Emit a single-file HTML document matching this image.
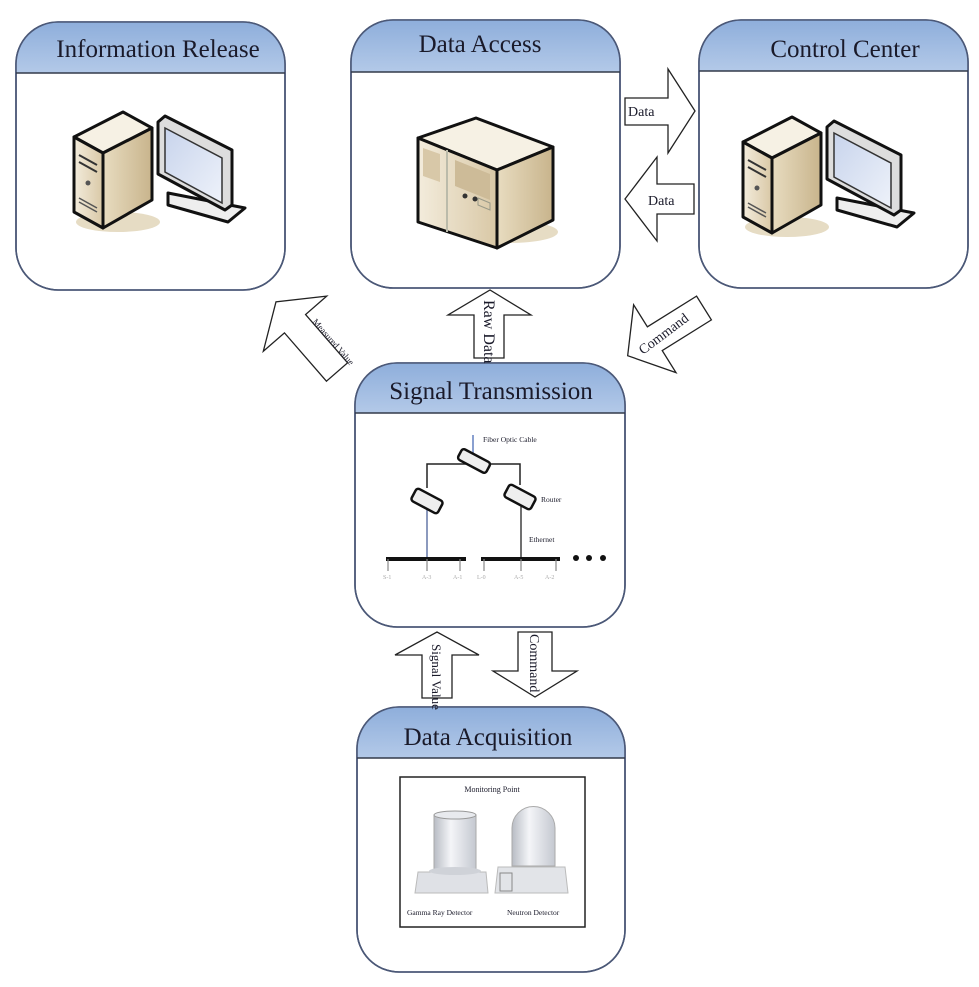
<!DOCTYPE html>
<html><head><meta charset="utf-8"><style>
html,body{margin:0;padding:0;background:#fff;}
svg{display:block;}
text{font-family:"Liberation Serif",serif;fill:#1a1a2a;}
</style></head><body>
<svg width="979" height="987" viewBox="0 0 979 987" xmlns="http://www.w3.org/2000/svg">
<defs>
<linearGradient id="hd" x1="0" y1="0" x2="0" y2="1">
<stop offset="0" stop-color="#8eaedb"/><stop offset="1" stop-color="#b3c9e8"/></linearGradient>
<linearGradient id="beige" x1="0" y1="0" x2="1" y2="0">
<stop offset="0" stop-color="#f3ecdc"/><stop offset="1" stop-color="#d9c8a6"/></linearGradient>
<linearGradient id="beige2" x1="0" y1="0" x2="1" y2="0">
<stop offset="0" stop-color="#e8dcc0"/><stop offset="1" stop-color="#c8b48c"/></linearGradient>
<linearGradient id="scr" x1="0" y1="0" x2="1" y2="1">
<stop offset="0" stop-color="#c8d4ec"/><stop offset="1" stop-color="#eef2fa"/></linearGradient>
<linearGradient id="cyl" x1="0" y1="0" x2="1" y2="0">
<stop offset="0" stop-color="#b8bcc4"/><stop offset="0.4" stop-color="#f4f5f8"/><stop offset="1" stop-color="#c4c8d0"/></linearGradient>
<clipPath id="c1"><rect x="16" y="22" width="269" height="268" rx="42"/></clipPath>
<clipPath id="c2"><rect x="351" y="20" width="269" height="268" rx="42"/></clipPath>
<clipPath id="c3"><rect x="699" y="20" width="269" height="268" rx="42"/></clipPath>
<clipPath id="c4"><rect x="355" y="363" width="270" height="264" rx="42"/></clipPath>
<clipPath id="c5"><rect x="357" y="707" width="268" height="265" rx="42"/></clipPath>
<g id="pc">
<ellipse cx="118" cy="222" rx="42" ry="10" fill="#e6dcc4"/>
<polygon points="74,137 123,112 152,128 103,153" fill="#f6f1e4" stroke="#111" stroke-width="3" stroke-linejoin="round"/>
<polygon points="74,137 103,153 103,228 74,212" fill="url(#beige)" stroke="#111" stroke-width="3" stroke-linejoin="round"/>
<polygon points="103,153 152,128 152,200 103,228" fill="url(#beige2)" stroke="#111" stroke-width="3" stroke-linejoin="round"/>
<line x1="79" y1="155" x2="97" y2="165" stroke="#333" stroke-width="2"/>
<line x1="79" y1="162" x2="97" y2="172" stroke="#333" stroke-width="2"/>
<circle cx="88" cy="183" r="2.5" fill="#555"/>
<line x1="79" y1="198" x2="97" y2="208" stroke="#555" stroke-width="1.5"/>
<line x1="79" y1="202" x2="97" y2="212" stroke="#555" stroke-width="1.5"/>
<polygon points="168,193 245,208 228,222 168,205" fill="#eee" stroke="#111" stroke-width="3" stroke-linejoin="round"/>
<polygon points="158,122 165,116 232,150 232,205 225,210 158,174" fill="#ddd" stroke="#111" stroke-width="3" stroke-linejoin="round"/>
<polygon points="165,128 222,158 222,203 165,172" fill="url(#scr)" stroke="#333" stroke-width="1.5"/>
</g>
</defs>

<g fill="#fff" stroke="#4b5877" stroke-width="1.6">
<rect x="16" y="22" width="269" height="268" rx="42"/>
<rect x="351" y="20" width="269" height="268" rx="42"/>
<rect x="699" y="20" width="269" height="268" rx="42"/>
<rect x="355" y="363" width="270" height="264" rx="42"/>
<rect x="357" y="707" width="268" height="265" rx="42"/>
</g>
<rect x="16" y="22" width="269" height="51" fill="url(#hd)" clip-path="url(#c1)"/>
<rect x="351" y="20" width="269" height="52" fill="url(#hd)" clip-path="url(#c2)"/>
<rect x="699" y="20" width="269" height="51" fill="url(#hd)" clip-path="url(#c3)"/>
<rect x="355" y="363" width="270" height="50" fill="url(#hd)" clip-path="url(#c4)"/>
<rect x="357" y="707" width="268" height="51" fill="url(#hd)" clip-path="url(#c5)"/>
<g fill="none" stroke="#4b5877" stroke-width="1.6">
<rect x="16" y="22" width="269" height="268" rx="42"/>
<rect x="351" y="20" width="269" height="268" rx="42"/>
<rect x="699" y="20" width="269" height="268" rx="42"/>
<rect x="355" y="363" width="270" height="264" rx="42"/>
<rect x="357" y="707" width="268" height="265" rx="42"/>
</g>
<g stroke="#333a4a" stroke-width="1.6">
<line x1="16" y1="73" x2="285" y2="73"/>
<line x1="351" y1="72" x2="620" y2="72"/>
<line x1="699" y1="71" x2="968" y2="71"/>
<line x1="355" y1="413" x2="625" y2="413"/>
<line x1="357" y1="758" x2="625" y2="758"/>
</g>
<g font-size="25" text-anchor="middle">
<text x="158" y="57">Information Release</text>
<text x="480" y="52">Data Access</text>
<text x="845" y="57">Control Center</text>
<text x="491" y="399">Signal Transmission</text>
<text x="488" y="745">Data Acquisition</text>
</g>

<use href="#pc"/>
<use href="#pc" transform="translate(669,5)"/>

<ellipse cx="510" cy="232" rx="48" ry="11" fill="#e6dcc4"/>
<polygon points="418,138 476,118 553,147 497,170" fill="#f6f1e4" stroke="#111" stroke-width="3" stroke-linejoin="round"/>
<polygon points="418,138 497,170 497,248 418,222" fill="url(#beige)" stroke="#111" stroke-width="3" stroke-linejoin="round"/>
<polygon points="497,170 553,147 553,220 497,248" fill="url(#beige2)" stroke="#111" stroke-width="3" stroke-linejoin="round"/>
<line x1="447" y1="150" x2="447" y2="232" stroke="#bba" stroke-width="2"/>
<polygon points="423,148 440,154 440,182 423,176" fill="#d8c8a8"/>
<polygon points="455,160 490,174 490,200 455,186" fill="#cdbb98"/>
<circle cx="465" cy="196" r="2.5" fill="#333"/><circle cx="475" cy="199" r="2.5" fill="#333"/>
<polygon points="478,198 490,203 490,210 478,205" fill="none" stroke="#998" stroke-width="1"/>

<g fill="#fff" stroke="#222" stroke-width="1.3" stroke-linejoin="miter">
<path d="M625,98 L668,98 L668,69 L695,111 L668,153 L668,125 L625,125 Z"/>
<path d="M694,184 L657,184 L657,157 L625,199 L657,241 L657,214 L694,214 Z"/>
<path d="M474,358 L474,315 L448,315 L490,290 L531,315 L504,315 L504,358 Z"/>
<path d="M422,698 L422,655 L395,655 L437,632 L479,655 L452,655 L452,698 Z"/>
<path d="M518,632 L552,632 L552,671 L577,671 L535,697 L493,671 L518,671 Z"/>
<path transform="translate(337,372) rotate(-131)" d="M0,-14 L64,-14 L64,-42 L93,0 L64,42 L64,14 L0,14 Z"/>
<path transform="translate(704,308) rotate(148)" d="M0,-14 L58,-14 L58,-40 L90,0 L58,40 L58,14 L0,14 Z"/>
</g>
<g font-size="14">
<text x="628" y="116">Data</text>
<text x="648" y="205">Data</text>
<text transform="translate(484,300) rotate(90)" font-size="16">Raw Data</text>
<text transform="translate(432,644) rotate(90)" font-size="13">Signal Value</text>
<text transform="translate(530,634) rotate(90)" font-size="14">Command</text>
<text transform="translate(312,322) rotate(49)" font-size="9">Measured Value</text>
<text transform="translate(643,355) rotate(-37)" font-size="14">Command</text>
</g>

<line x1="473" y1="435" x2="473" y2="453" stroke="#8aa0d0" stroke-width="2"/>
<g stroke="#222" stroke-width="1.5" fill="none">
<polyline points="427,488 427,464 520,464 520,485"/>
</g>
<line x1="427" y1="508" x2="427" y2="559" stroke="#6678a8" stroke-width="1.5"/>
<line x1="521" y1="506" x2="521" y2="559" stroke="#222" stroke-width="1.3"/>
<g stroke="#111" stroke-width="2.5" fill="#eee">
<rect x="458" y="455" width="32" height="12" rx="3" transform="rotate(28 474 461)"/>
<rect x="412" y="494" width="30" height="14" rx="3" transform="rotate(28 427 501)"/>
<rect x="505" y="490" width="30" height="14" rx="3" transform="rotate(28 520 497)"/>
</g>
<g stroke="#111" stroke-width="4"><line x1="386" y1="559" x2="466" y2="559"/><line x1="481" y1="559" x2="560" y2="559"/></g>
<g stroke="#888" stroke-width="1.2">
<line x1="388" y1="559" x2="388" y2="571"/><line x1="427" y1="559" x2="427" y2="571"/><line x1="460" y1="559" x2="460" y2="571"/>
<line x1="484" y1="559" x2="484" y2="571"/><line x1="521" y1="559" x2="521" y2="571"/><line x1="556" y1="559" x2="556" y2="571"/>
</g>
<g font-size="6">
<text x="383" y="579" style="fill:#aaa">S-1</text><text x="422" y="579" style="fill:#aaa">A-3</text><text x="453" y="579" style="fill:#aaa">A-1</text>
<text x="477" y="579" style="fill:#aaa">L-0</text><text x="514" y="579" style="fill:#aaa">A-5</text><text x="545" y="579" style="fill:#aaa">A-2</text>
</g>
<g fill="#111"><circle cx="576" cy="558" r="3"/><circle cx="589" cy="558" r="3"/><circle cx="603" cy="558" r="3"/></g>
<g font-size="7.5">
<text x="483" y="442">Fiber Optic Cable</text>
<text x="541" y="502">Router</text>
<text x="529" y="542">Ethernet</text>
</g>

<rect x="400" y="777" width="185" height="150" fill="#fff" stroke="#222" stroke-width="1.5"/>
<text x="492" y="792" font-size="8" text-anchor="middle">Monitoring Point</text>
<polygon points="418,872 486,872 488,893 415,893" fill="#dfe1e6" stroke="#bbb"/>
<rect x="434" y="815" width="42" height="57" fill="url(#cyl)" stroke="#aaa"/>
<ellipse cx="455" cy="815" rx="21" ry="4" fill="#e8eaee" stroke="#999"/>
<ellipse cx="455" cy="871" rx="26" ry="4" fill="#cfd2d8"/>
<polygon points="498,867 565,867 568,893 495,893" fill="#e2e4e8" stroke="#bbb"/>
<polygon points="500,873 512,873 512,891 500,891" fill="none" stroke="#888"/>
<path d="M512,866 L512,828 A21.5,21.5 0 0 1 555,828 L555,866 Z" fill="url(#cyl)" stroke="#aaa"/>
<g font-size="7.5"><text x="407" y="915">Gamma Ray Detector</text><text x="507" y="915">Neutron Detector</text></g>
</svg>
</body></html>
